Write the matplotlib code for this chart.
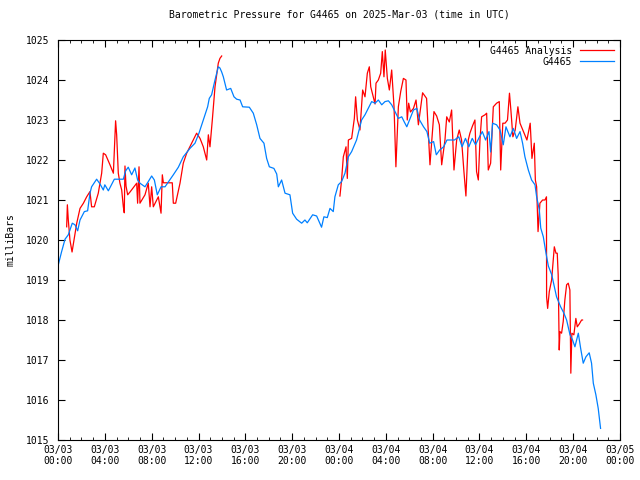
import numpy as np
import matplotlib
matplotlib.use('Agg')
import matplotlib.pyplot as plt

# hours since 03/03 00:00 UTC, pressure in millibars
station_hours = [0.0, 0.3, 0.6, 0.88, 1.22, 1.45, 1.68, 1.88, 2.25, 2.53, 2.73, 2.87, 3.3, 3.59, 3.87, 4.0, 4.3,
                 4.81, 5.58, 5.78, 6.0, 6.29, 6.57, 6.8, 7.0, 7.43, 7.71, 8.0, 8.23, 8.48, 8.8, 9.14, 9.85,
                 10.28, 10.7, 11.27, 11.7, 12.04, 12.41, 12.78, 12.92, 13.12, 13.41, 13.69, 13.83, 13.98,
                 14.12, 14.4, 14.75, 15.03, 15.26, 15.55, 15.77, 16.34, 16.68, 16.97, 17.25, 17.59, 17.82,
                 18.05, 18.44, 18.68, 18.82, 19.1, 19.39, 19.81, 20.04, 20.38, 20.81, 21.09, 21.29, 21.75,
                 22.09, 22.51, 22.71, 23.0, 23.23, 23.51, 23.65, 23.94, 24.22, 24.51, 24.8, 25.08, 25.5,
                 25.79, 25.93, 26.22, 26.5, 26.79, 27.08, 27.36, 27.65, 27.93, 28.22, 28.5, 28.79, 29.07,
                 29.36, 29.56, 29.79, 30.07, 30.36, 30.65, 30.88, 31.22, 31.51, 31.74, 32.08, 32.31, 32.6,
                 32.94, 33.22, 33.51, 33.86, 34.23, 34.51, 34.8, 35.09, 35.38, 35.66, 36.0, 36.24, 36.52,
                 36.81, 36.95, 37.12, 37.46, 37.75, 38.03, 38.26, 38.6, 38.89, 39.17, 39.46, 39.68, 39.88,
                 40.17, 40.45, 40.74, 40.88, 41.11, 41.23, 41.45, 41.68, 41.88, 42.17, 42.58, 42.93, 43.21,
                 43.44, 43.73, 43.95, 44.15, 44.44, 44.64, 44.86, 45.09, 45.37, 45.57, 45.72, 45.94, 46.14,
                 46.34]
station_mb = [1019.35, 1019.7, 1020.02, 1020.13, 1020.42, 1020.38, 1020.23, 1020.5, 1020.71, 1020.73, 1021.17,
              1021.33, 1021.52, 1021.4, 1021.25, 1021.38, 1021.23, 1021.52, 1021.52, 1021.73, 1021.82, 1021.63,
              1021.8, 1021.5, 1021.42, 1021.33, 1021.46, 1021.6, 1021.5, 1021.13, 1021.33, 1021.33, 1021.63,
              1021.82, 1022.08, 1022.29, 1022.42, 1022.67, 1023.0, 1023.33, 1023.54, 1023.63, 1024.0, 1024.33,
              1024.3, 1024.2, 1024.08, 1023.75, 1023.79, 1023.58, 1023.52, 1023.5, 1023.33, 1023.32, 1023.17,
              1022.88, 1022.54, 1022.42, 1022.04, 1021.83, 1021.79, 1021.65, 1021.33, 1021.5, 1021.17, 1021.13,
              1020.67, 1020.52, 1020.42, 1020.5, 1020.43, 1020.63, 1020.6, 1020.32, 1020.58, 1020.56, 1020.79,
              1020.71, 1021.08, 1021.38, 1021.46, 1021.67, 1022.08, 1022.21, 1022.5, 1022.83, 1023.0, 1023.13,
              1023.29, 1023.46, 1023.42, 1023.5, 1023.38, 1023.46, 1023.48, 1023.38, 1023.21, 1023.04, 1023.08,
              1022.96, 1022.83, 1023.04, 1023.25, 1023.29, 1023.0, 1022.83, 1022.71, 1022.42, 1022.46, 1022.13,
              1022.25, 1022.33, 1022.5, 1022.5, 1022.5, 1022.58, 1022.33, 1022.54, 1022.33, 1022.54, 1022.38,
              1022.58, 1022.71, 1022.5, 1022.71, 1022.2, 1022.92, 1022.88, 1022.75, 1022.38, 1022.83, 1022.58,
              1022.79, 1022.54, 1022.71, 1022.42, 1022.08, 1021.75, 1021.5, 1021.38, 1021.08, 1020.75, 1020.3,
              1020.08, 1019.67, 1019.35, 1019.13, 1018.58, 1018.33, 1018.17, 1018.0, 1017.63, 1017.5, 1017.33,
              1017.67, 1017.29, 1016.92, 1017.08, 1017.18, 1016.92, 1016.42, 1016.13, 1015.79, 1015.29]

# analysis series, gap (nan) between the two runs
analysis_hours = [0.74, 0.8, 0.88, 1.02, 1.2, 1.6, 1.88, 2.17, 2.45, 2.73, 2.87, 3.1, 3.44, 3.73, 3.87, 4.07,
                  4.44, 4.73, 4.87, 4.92, 5.01, 5.15, 5.29, 5.44, 5.58, 5.66, 5.72, 5.81, 5.95, 6.15, 6.72,
                  6.8, 6.92, 7.0, 7.43, 7.71, 7.86, 8.0, 8.14, 8.57, 8.8, 8.91, 9.0, 9.76, 9.85, 10.05, 10.42,
                  10.7, 10.99, 11.42, 11.84, 12.13, 12.41, 12.7, 12.84, 12.98, 13.18, 13.41, 13.69, 13.83,
                  13.98, 19.0,
                  24.08, 24.22, 24.37, 24.6, 24.71, 24.8, 25.08, 25.31, 25.42, 25.57, 25.79, 26.02, 26.22,
                  26.42, 26.59, 26.71, 27.08, 27.16, 27.36, 27.56, 27.7, 27.84, 27.95, 28.13, 28.3, 28.5,
                  28.7, 28.86, 29.07, 29.27, 29.5, 29.72, 29.83, 29.95, 30.1, 30.36, 30.58, 30.78, 31.14,
                  31.48, 31.77, 32.11, 32.34, 32.57, 32.77, 33.05, 33.2, 33.42, 33.62, 33.82, 34.05, 34.27,
                  34.47, 34.67, 34.84, 35.04, 35.18, 35.4, 35.61, 35.75, 35.9, 36.04, 36.18, 36.47, 36.61,
                  36.75, 36.95, 37.18, 37.46, 37.69, 37.81, 37.99, 38.18, 38.39, 38.56, 38.68, 38.85, 39.05,
                  39.28, 39.46, 39.76, 40.05, 40.33, 40.48, 40.68, 40.77, 40.88, 41.0, 41.16, 41.39, 41.59,
                  41.72, 41.73, 41.82, 41.96, 42.16, 42.39, 42.53, 42.64, 42.72, 42.81, 42.87, 43.01, 43.15,
                  43.29, 43.44, 43.58, 43.72, 43.8, 43.89, 44.06, 44.23, 44.35, 44.52, 44.72, 44.8]
analysis_mb = [1020.33, 1020.88, 1020.5, 1020.0, 1019.7, 1020.42, 1020.79, 1020.92, 1021.08, 1021.21, 1020.83,
               1020.83, 1021.17, 1021.67, 1022.17, 1022.13, 1021.88, 1021.67, 1022.63, 1022.98, 1022.63,
               1021.67, 1021.42, 1021.25, 1020.83, 1020.68, 1021.85, 1021.35, 1021.13, 1021.2, 1021.42,
               1020.92, 1021.83, 1020.92, 1021.13, 1021.42, 1020.83, 1021.33, 1020.83, 1021.08, 1020.67,
               1021.63, 1021.43, 1021.43, 1020.92, 1020.92, 1021.42, 1021.92, 1022.17, 1022.42, 1022.67,
               1022.54, 1022.33, 1022.0, 1022.63, 1022.33, 1023.0, 1023.83, 1024.42, 1024.54, 1024.6, np.nan,
               1021.1, 1021.5, 1022.08, 1022.33, 1021.54, 1022.5, 1022.54, 1023.04, 1023.58, 1023.0, 1022.75,
               1023.75, 1023.58, 1024.17, 1024.33, 1023.83, 1023.4, 1023.92, 1024.0, 1024.17, 1024.71, 1024.08,
               1024.75, 1024.04, 1023.75, 1024.25, 1023.33, 1021.83, 1023.33, 1023.71, 1024.04, 1024.0,
               1023.0, 1023.42, 1023.2, 1023.29, 1023.5, 1022.88, 1023.68, 1023.54, 1021.88, 1023.21, 1023.1,
               1022.88, 1021.88, 1022.5, 1023.08, 1022.95, 1023.25, 1021.75, 1022.5, 1022.75, 1022.5, 1021.71,
               1021.1, 1022.5, 1022.67, 1022.85, 1023.0, 1021.71, 1021.5, 1022.5, 1023.08, 1023.13, 1023.17,
               1021.75, 1021.92, 1023.33, 1023.42, 1023.46, 1021.75, 1022.92, 1022.92, 1023.0, 1023.67,
               1023.25, 1022.58, 1022.75, 1023.33, 1022.92, 1022.71, 1022.5, 1022.92, 1022.04, 1022.42,
               1021.5, 1021.33, 1020.21, 1020.92, 1021.0, 1021.0, 1021.08, 1018.58, 1018.29, 1018.71, 1019.0,
               1019.83, 1019.67, 1019.67, 1019.13, 1017.25, 1017.71, 1017.67, 1017.96, 1018.5, 1018.88,
               1018.92, 1018.75, 1016.67, 1017.67, 1017.63, 1018.04, 1017.83, 1017.9, 1018.0, 1018.0]

tick_hours = list(range(0, 49, 4))
tick_labels = ['03/03\n00:00', '03/03\n04:00', '03/03\n08:00', '03/03\n12:00', '03/03\n16:00',
               '03/03\n20:00', '03/04\n00:00', '03/04\n04:00', '03/04\n08:00', '03/04\n12:00',
               '03/04\n16:00', '03/04\n20:00', '03/05\n00:00']

plt.rcParams['font.family'] = 'DejaVu Sans Mono'
plt.rcParams['font.size'] = 7

fig = plt.figure(figsize=(6.4, 4.8), dpi=100)
ax = fig.add_axes([58 / 640, 1 - 440 / 480, 562 / 640, 400 / 480])

ax.plot(analysis_hours, analysis_mb, color='#ff0000', lw=0.9, label='G4465 Analysis')
ax.plot(station_hours, station_mb, color='#0080ff', lw=0.9, label='G4465')

ax.set_xlim(0, 48)
ax.set_ylim(1015, 1025)
ax.set_xticks(tick_hours)
ax.set_xticklabels(tick_labels)
ax.set_xticks(range(0, 49), minor=True)
ax.set_yticks(range(1015, 1026))
ax.tick_params(which='both', direction='in', top=True, right=True, labelsize=7)
ax.tick_params(which='major', length=5)
ax.tick_params(which='minor', length=2.5)
ax.tick_params(axis='y', pad=6)

ax.set_ylabel('milliBars', labelpad=8)
ax.set_title('Barometric Pressure for G4465 on 2025-Mar-03 (time in UTC)', fontsize=7, pad=16)

ax.legend(loc='upper right', frameon=False, markerfirst=False, handlelength=3.5,
          borderaxespad=0.2, labelspacing=0.1, fontsize=7)

fig.savefig('out.png', dpi=100)
